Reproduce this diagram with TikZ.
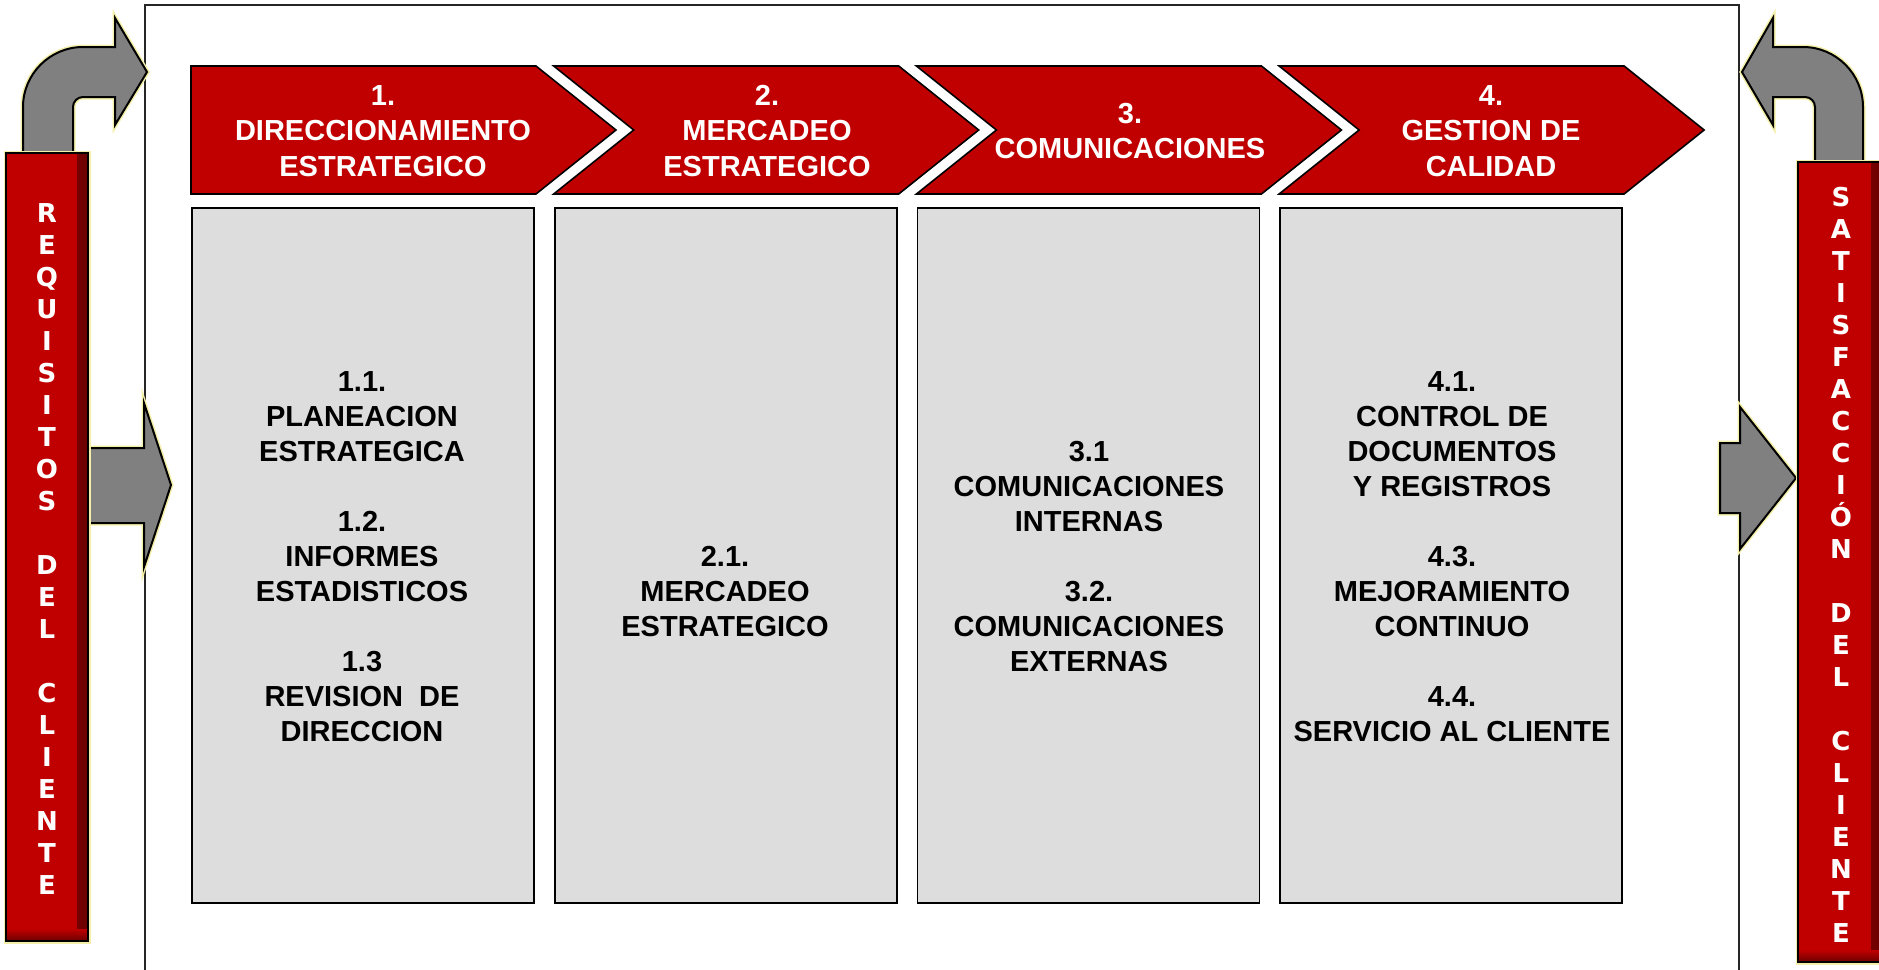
\documentclass[tikz,border=0pt]{standalone}
\usepackage{fontspec}
\setmainfont{Liberation Sans}
\newfontfamily\barfont{DejaVu Sans}
\usepackage{tikz}
\usetikzlibrary{calc}
\definecolor{chevred}{HTML}{C00000}
\definecolor{bardark}{HTML}{6A0000}
\definecolor{boxgray}{HTML}{DDDDDD}
\definecolor{arrowgray}{HTML}{808080}
\definecolor{glow}{HTML}{F4EFA8}
\tikzset{
  frame/.style={draw=black!85, line width=1.8pt},
  chev/.style={fill=chevred, draw=black, line width=1.6pt, line join=miter},
  sub/.style={fill=boxgray, draw=black, line width=1.6pt},
  garrow/.style={fill=arrowgray, draw=black, line width=2pt, line join=miter,
    preaction={draw=glow, line width=5pt}},
  bar/.style={fill=chevred, draw=black, line width=2pt,
    preaction={draw=glow, line width=5pt},
    path picture={
      \shade[left color=chevred, right color=bardark]
        ([xshift=-11pt]path picture bounding box.north east) rectangle (path picture bounding box.south east);
      \shade[top color=chevred, bottom color=bardark]
        ([yshift=12pt]path picture bounding box.south west) rectangle (path picture bounding box.south east);
    }},
  labw/.style={text=white, font=\bfseries\fontsize{29}{35.5}\selectfont, align=center, inner sep=0pt},
  lab/.style={text=black, font=\bfseries\fontsize{29}{35}\selectfont, align=center, inner sep=0pt},
  lett/.style={text=white, font=\barfont\bfseries\fontsize{26}{32}\selectfont, align=center, inner sep=0pt},
}
\begin{document}
\begin{tikzpicture}[x=1pt, y=-1pt]
\useasboundingbox (0,0) rectangle (1879,969);

% outer frame
\draw[frame] (145,975) -- (145,5) -- (1739,5) -- (1739,975);

% process chevrons and their boxes
\foreach \i in {1,...,4}{
  \pgfmathsetmacro{\L}{191+362.7*(\i-1)}
  \pgfmathsetmacro{\n}{ifthenelse(\i==1,0,80)}
  \draw[chev] (\L,66) -- ({\L+345},66) -- ({\L+425},130) -- ({\L+345},194)
    -- (\L,194) -- ({\L+\n},130) -- cycle;
  \draw[sub] ({\L+1},208) rectangle ({\L+343},903);
}

\node[labw] (c1) at (383,131) {1.\\DIRECCIONAMIENTO\\ESTRATEGICO};
\node[labw] (c2) at (767,131) {2.\\MERCADEO\\ESTRATEGICO};
\node[labw] (c3) at (1130,131) {3.\\COMUNICACIONES};
\node[labw] (c4) at (1491,131) {4.\\GESTION DE\\CALIDAD};

\node[lab] (b1) at (362,557) {1.1.\\PLANEACION\\ESTRATEGICA\\[35pt]1.2.\\INFORMES\\ESTADISTICOS\\[35pt]1.3\\REVISION\ \ DE\\DIRECCION};
\node[lab] (b2) at (725,592) {2.1.\\MERCADEO\\ESTRATEGICO};
\node[lab] (b3) at (1089,557) {3.1\\COMUNICACIONES\\INTERNAS\\[35pt]3.2.\\COMUNICACIONES\\EXTERNAS};
\node[lab] (b4) at (1452,557) {4.1.\\CONTROL DE\\DOCUMENTOS\\Y REGISTROS\\[35pt]4.3.\\MEJORAMIENTO\\CONTINUO\\[35pt]4.4.\\SERVICIO AL CLIENTE};

% gray arrows
\draw[garrow] (23,160) -- (23,107) .. controls (23,74) and (50,47) .. (83,47)
  -- (115,47) -- (115,18) -- (147,72) -- (115,125) -- (115,97) -- (83,97)
  .. controls (77.5,97) and (73,101.5) .. (73,107) -- (73,160) -- cycle;
\draw[garrow] (84,448) -- (144,448) -- (144,403) -- (171,485) -- (144,567)
  -- (144,523) -- (84,523) -- cycle;
\draw[garrow] (1863,170) -- (1863,107) .. controls (1863,74) and (1836,47) .. (1803,47)
  -- (1773,47) -- (1773,18) -- (1742,72) -- (1773,125) -- (1773,97) -- (1805,97)
  .. controls (1810.5,97) and (1815,101.5) .. (1815,107) -- (1815,170) -- cycle;
\draw[garrow] (1720,443) -- (1740,443) -- (1740,407) -- (1796,478) -- (1740,549)
  -- (1740,513) -- (1720,513) -- cycle;

% client bars
\draw[bar] (6,153) rectangle (88,941);
\draw[bar] (1798,162) rectangle (1882,962);
\node[lett] (req) at (47,549) {R\\E\\Q\\U\\I\\S\\I\\T\\O\\S\\[32pt]D\\E\\L\\[32pt]C\\L\\I\\E\\N\\T\\E};
\node[lett] (sat) at (1841,565) {S\\A\\T\\I\\S\\F\\A\\C\\C\\I\\Ó\\N\\[32pt]D\\E\\L\\[32pt]C\\L\\I\\E\\N\\T\\E};
\end{tikzpicture}
\end{document}
